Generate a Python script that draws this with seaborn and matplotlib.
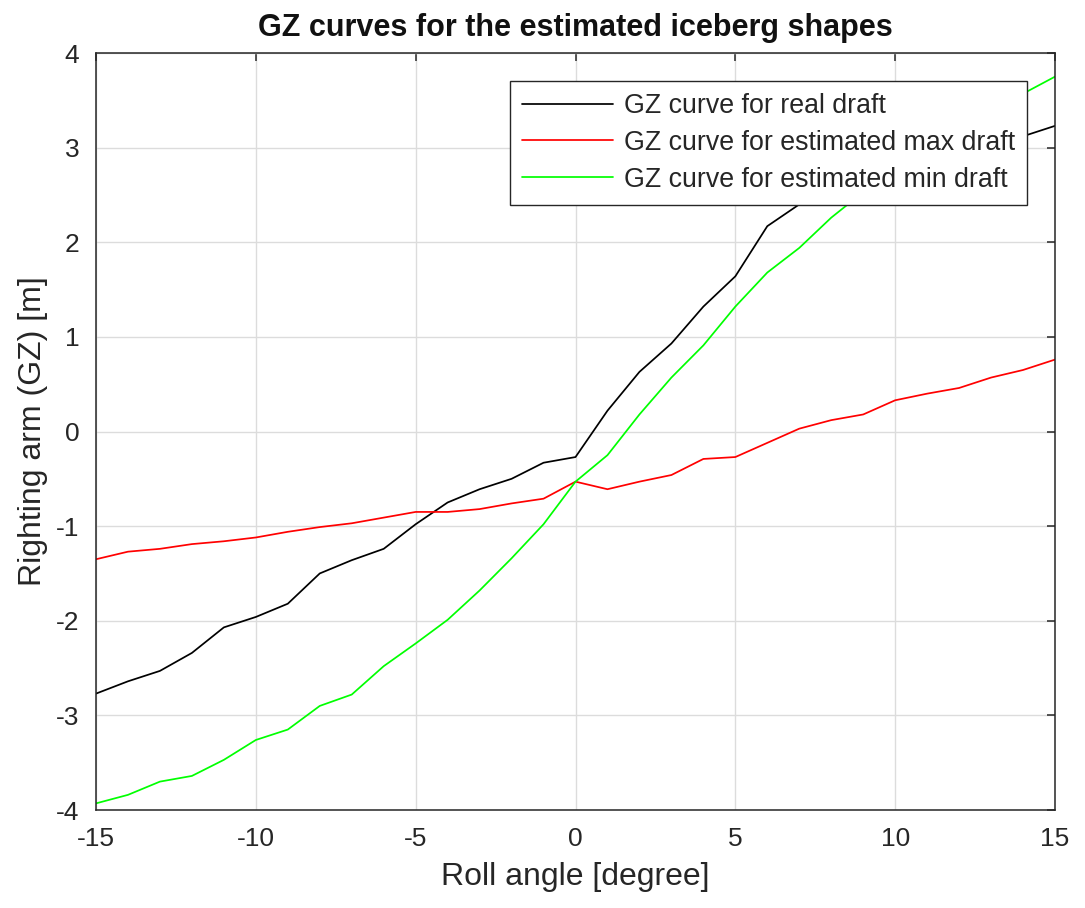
import numpy as np
import pandas as pd
import matplotlib
matplotlib.use("Agg")
import matplotlib.pyplot as plt
import seaborn as sns

# roll angles [degree]
angles = list(range(-15, 16))

# righting arm values [m]
gz_real = [-2.77, -2.64, -2.53, -2.34, -2.07, -1.96, -1.82, -1.50, -1.36, -1.24,
           -0.98, -0.75, -0.61, -0.50, -0.33, -0.27, 0.22, 0.63, 0.93, 1.32,
           1.64, 2.17, 2.40, 2.55, 2.68, 2.80, 2.90, 2.98, 3.05, 3.12, 3.23]
gz_max = [-1.35, -1.27, -1.24, -1.19, -1.16, -1.12, -1.06, -1.01, -0.97, -0.91,
          -0.85, -0.85, -0.82, -0.76, -0.71, -0.53, -0.61, -0.53, -0.46, -0.29,
          -0.27, -0.12, 0.03, 0.12, 0.18, 0.33, 0.40, 0.46, 0.57, 0.65, 0.76]
gz_min = [-3.93, -3.84, -3.70, -3.64, -3.47, -3.26, -3.15, -2.90, -2.78, -2.48,
          -2.24, -1.99, -1.68, -1.34, -0.98, -0.53, -0.25, 0.18, 0.57, 0.91,
          1.32, 1.68, 1.94, 2.26, 2.53, 2.73, 2.97, 3.20, 3.38, 3.57, 3.75]

labels = ["GZ curve for real draft",
          "GZ curve for estimated max draft",
          "GZ curve for estimated min draft"]
colors = ["#000000", "#ff0000", "#00ff00"]

x_ticks = [-15, -10, -5, 0, 5, 10, 15]
y_ticks = [-4, -3, -2, -1, 0, 1, 2, 3, 4]

df = pd.concat([
    pd.DataFrame({"angle": angles, "gz": vals, "curve": lab})
    for vals, lab in zip([gz_real, gz_max, gz_min], labels)
])

sns.set_style("whitegrid")
plt.rcParams["font.family"] = ["Liberation Sans", "DejaVu Sans"]
plt.rcParams["axes.unicode_minus"] = False

fig = plt.figure(figsize=(10.85, 9.08), dpi=100)
ax = fig.add_axes([96 / 1085, 1 - 810 / 908, 959 / 1085, 757 / 908])

sns.lineplot(data=df, x="angle", y="gz", hue="curve", hue_order=labels,
             palette=colors, linewidth=1.25, ax=ax)

ax.set_xlim(-15, 15)
ax.set_ylim(-4, 4)
ax.set_xticks(x_ticks)
ax.set_yticks(y_ticks)
ax.grid(True, color="#dcdcdc", linewidth=1.0)
for s in ax.spines.values():
    s.set_visible(True)
    s.set_color("#262626")
    s.set_linewidth(1.1)
ax.tick_params(direction="in", length=6, width=1.1, color="#262626",
               top=True, right=True, labelsize=19, labelcolor="#262626")
ax.tick_params(axis="x", pad=12)
ax.tick_params(axis="y", pad=12)

ax.set_xlabel("Roll angle [degree]", fontsize=23, color="#262626", labelpad=8)
ax.set_ylabel("Righting arm (GZ) [m]", fontsize=23, color="#262626", labelpad=6)
ax.set_title("GZ curves for the estimated iceberg shapes", fontsize=22,
             fontweight="bold", color="#111111", pad=12)

leg = ax.legend(loc="upper right", bbox_to_anchor=(0.971, 0.963), fontsize=19.3,
                frameon=True, fancybox=False, handlelength=3.4, handletextpad=0.4,
                borderpad=0.45, labelspacing=0.4, borderaxespad=0)
leg.get_frame().set_edgecolor("#262626")
leg.get_frame().set_linewidth(1.0)
leg.get_frame().set_alpha(1)
for t in leg.get_texts():
    t.set_color("#262626")

fig.savefig("out.png", dpi=100, facecolor="white")
